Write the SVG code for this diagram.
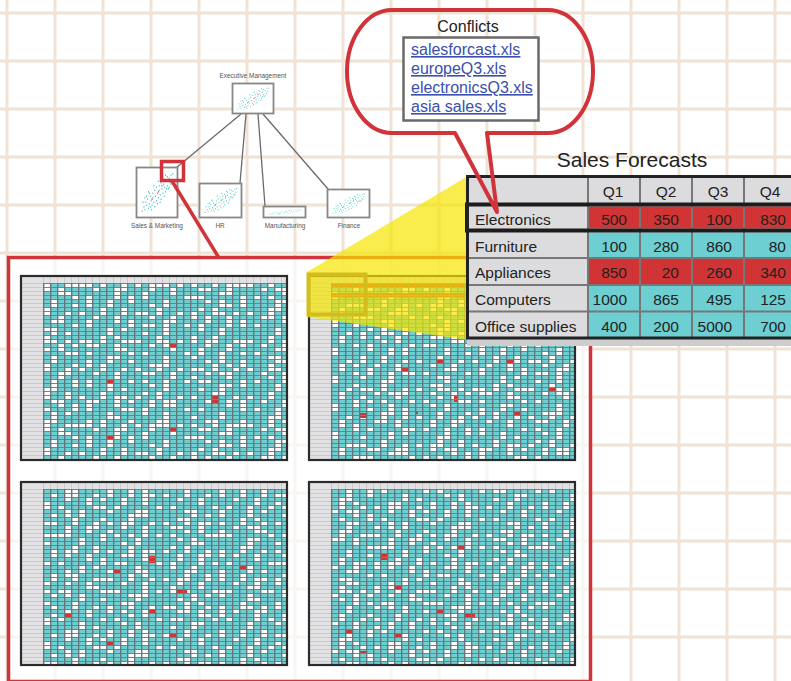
<svg xmlns="http://www.w3.org/2000/svg" xmlns:xlink="http://www.w3.org/1999/xlink" width="791" height="681" viewBox="0 0 791 681">
<style>
text{font-family:"Liberation Sans",Arial,sans-serif}
.org{font-size:6.4px;fill:#555;text-anchor:middle}
.box{fill:#fff;stroke:#878787;stroke-width:1.8}
.conn{stroke:#6a6a6a;stroke-width:1.3;fill:none}
.redln{fill:none;stroke:#d0343a;stroke-width:3.5}
.teal{fill:#6ecfd2}
.rc{fill:#d13434}
.gray{fill:#e2e2e4}
.frame{fill:none;stroke:#2b2b2b;stroke-width:2.2}
.tt{font-size:15.5px;fill:#222}
.num{text-anchor:end}
.q{text-anchor:middle}
.link{font-size:16px;fill:#3a4fae;text-decoration:underline}
.tl{stroke:#777;stroke-width:2}
</style>
<defs>
<pattern id="bg" patternUnits="userSpaceOnUse" x="5.5" y="11.5" width="48" height="48">
<rect width="3" height="48" fill="#eee3d4"/><rect width="48" height="3" fill="#eee3d4"/>
</pattern>
<pattern id="wA" patternUnits="userSpaceOnUse" x="23" y="8" width="56" height="28">
<path fill="#fff" d="M21 0h7v4h-7zM14 4h7v8h-7zM35 8h7v4h-7zM49 8h7v4h-7zM7 12h7v4h-7zM28 12h7v8h-7zM0 20h7v4h-7zM42 20h7v4h-7zM21 24h7v4h-7z"/>
</pattern>
<pattern id="wB" patternUnits="userSpaceOnUse" x="23" y="8" width="77" height="20">
<path fill="#fff" d="M56 0h7v4h-7zM28 4h7v4h-7zM0 8h7v8h-7zM42 8h7v4h-7zM63 12h7v4h-7zM35 16h7v4h-7z"/>
</pattern>
<pattern id="gl" patternUnits="userSpaceOnUse" x="23" y="8" width="7" height="4">
<rect width="7" height="1" fill="#738285"/><rect width="1.4" height="4" fill="#66767a"/>
</pattern>
<pattern id="hd" patternUnits="userSpaceOnUse" x="23" y="0" width="7" height="8">
<rect width="1" height="8" fill="#cacaca"/>
</pattern>
<pattern id="rh" patternUnits="userSpaceOnUse" x="0" y="8" width="22" height="4">
<rect width="22" height="0.8" fill="#c4c4c4"/>
</pattern>
<symbol id="sc" viewBox="0 0 40 30" preserveAspectRatio="none">
<path fill="#3dbdc6" d="M3 27h1v1h-1zM5 24h1v1h-1zM6 26h1v1h-1zM7 21h1v1h-1zM8 23h1v1h-1zM9 19h1v1h-1zM10 25h1v1h-1zM11 22h1v1h-1zM12 17h1v1h-1zM13 20h1v1h-1zM14 23h1v1h-1zM15 15h1v1h-1zM15 18h1v1h-1zM16 21h1v1h-1zM17 13h1v1h-1zM18 17h1v1h-1zM19 20h1v1h-1zM19 11h1v1h-1zM20 15h1v1h-1zM21 18h1v1h-1zM22 10h1v1h-1zM22 13h1v1h-1zM23 16h1v1h-1zM24 8h1v1h-1zM25 12h1v1h-1zM26 15h1v1h-1zM27 9h1v1h-1zM27 6h1v1h-1zM28 11h1v1h-1zM29 14h1v1h-1zM30 7h1v1h-1zM31 4h1v1h-1zM31 10h1v1h-1zM32 12h1v1h-1zM33 5h1v1h-1zM34 8h1v1h-1zM35 3h1v1h-1zM36 6h1v1h-1zM37 2h1v1h-1zM11 15h1v1h-1zM13 26h1v1h-1zM24 19h1v1h-1zM29 3h1v1h-1zM8 17h1v1h-1zM20 22h1v1h-1zM33 11h1v1h-1zM17 24h1v1h-1zM26 5h1v1h-1zM4 21h1v1h-1zM6 18h1v1h-1zM10 14h1v1h-1zM16 10h1v1h-1zM21 7h1v1h-1zM28 17h1v1h-1zM12 24h1v1h-1zM23 21h1v1h-1zM35 9h1v1h-1zM30 12h1v1h-1z"/>
<path fill="#d03030" d="M14 19h1v1h-1zM21 14h1v1h-1zM25 10h1v1h-1z"/>
</symbol>
</defs>

<rect width="791" height="681" fill="#fff"/>
<rect width="791" height="681" fill="url(#bg)"/>
<rect x="10" y="259" width="579" height="422" fill="#fff" opacity="0.65"/>

<g id="connectors">
<line class="conn" x1="241" y1="114" x2="176" y2="168"/>
<line class="conn" x1="246" y1="114" x2="240" y2="183"/>
<line class="conn" x1="258" y1="114" x2="265" y2="206"/>
<line class="conn" x1="263" y1="114" x2="328" y2="189"/>
</g>

<g id="exec">
<rect class="box" x="232.5" y="83.5" width="41" height="30"/>
<use href="#sc" x="235" y="86" width="36" height="25"/>
<text class="org" x="253" y="78">Executive Management</text>
</g>
<g id="sales">
<rect class="box" x="136.5" y="167.5" width="41" height="50"/>
<use href="#sc" x="139" y="170" width="36" height="45"/>
<text class="org" x="157" y="228">Sales &amp; Marketing</text>
</g>
<g id="hr">
<rect class="box" x="199.5" y="183.5" width="42" height="34"/>
<use href="#sc" x="202" y="186" width="37" height="29"/>
<text class="org" x="220" y="228">HR</text>
</g>
<g id="manufacturing">
<rect class="box" x="263.5" y="206.5" width="42" height="11"/>
<use href="#sc" x="266" y="208.5" width="37" height="7"/>
<text class="org" x="285" y="228">Manufacturing</text>
</g>
<g id="finance">
<rect class="box" x="327.5" y="189.5" width="42" height="28"/>
<use href="#sc" x="330" y="192" width="37" height="23"/>
<text class="org" x="349" y="228">Finance</text>
</g>

<g id="zoom-frame">
<rect class="redln" x="161.5" y="161.5" width="22" height="19"/>
<line class="redln" x1="172" y1="181" x2="219" y2="258"/>
<rect class="redln" x="8.5" y="257.5" width="582" height="424"/>
</g>

<g id="sheet-1" transform="translate(20,275)">
<rect class="gray" x="0" y="0" width="268" height="186"/>
<rect x="23" y="1" width="244" height="7" fill="url(#hd)"/>
<rect x="1" y="8" width="22" height="177" fill="url(#rh)"/>
<rect class="teal" x="23" y="8" width="244" height="177"/>
<g transform="translate(-14,-8)"><rect x="37" y="16" width="244" height="177" fill="url(#wA)"/></g>
<g transform="translate(-35,-12)"><rect x="58" y="20" width="244" height="177" fill="url(#wB)"/></g>
<path class="rc" d="M149 68h7v4h-7zM86 104h7v4h-7zM191 120h7v8h-7zM149 152h7v4h-7zM86 160h7v4h-7z"/>
<rect x="23" y="8" width="244" height="177" fill="url(#gl)"/>
<rect class="frame" x="1" y="1" width="266" height="184"/>
</g>

<g id="sheet-2" transform="translate(308,275)">
<rect class="gray" x="0" y="0" width="268" height="186"/>
<rect x="23" y="1" width="244" height="7" fill="url(#hd)"/>
<rect x="1" y="8" width="22" height="177" fill="url(#rh)"/>
<rect class="teal" x="23" y="8" width="244" height="177"/>
<g transform="translate(-21,-16)"><rect x="44" y="24" width="244" height="177" fill="url(#wA)"/></g>
<g transform="translate(-7,-4)"><rect x="30" y="12" width="244" height="177" fill="url(#wB)"/></g>
<path class="rc" d="M24 8.5h243v4.5h-243zM24 18h243v4.5h-243zM128 84h7v4h-7zM198 84h7v4h-7zM93 92h7v4h-7zM240 112h7v4h-7zM146 120h4v7h-4zM51 138h7v5h-7zM107 136h3v3h-3zM205 136h7v4h-7z"/>
<rect x="23" y="8" width="244" height="177" fill="url(#gl)"/>
<rect class="frame" x="1" y="1" width="266" height="184"/>
</g>

<g id="sheet-3" transform="translate(20,481)">
<rect class="gray" x="0" y="0" width="268" height="185"/>
<rect x="23" y="1" width="244" height="7" fill="url(#hd)"/>
<rect x="1" y="8" width="22" height="176" fill="url(#rh)"/>
<rect class="teal" x="23" y="8" width="244" height="176"/>
<g transform="translate(-42,-4)"><rect x="65" y="12" width="244" height="176" fill="url(#wA)"/></g>
<g transform="translate(-56,-8)"><rect x="79" y="16" width="244" height="176" fill="url(#wB)"/></g>
<path class="rc" d="M128 75h7v7h-7zM93 88h7v4h-7zM219 84h7v4h-7zM156 108h11v4h-11zM128 128h7v4h-7zM44 132h7v4h-7zM149 152h7v4h-7zM86 160h7v4h-7z"/>
<rect x="23" y="8" width="244" height="176" fill="url(#gl)"/>
<rect class="frame" x="1" y="1" width="266" height="183"/>
</g>

<g id="sheet-4" transform="translate(308,481)">
<rect class="gray" x="0" y="0" width="268" height="185"/>
<rect x="23" y="1" width="244" height="7" fill="url(#hd)"/>
<rect x="1" y="8" width="22" height="176" fill="url(#rh)"/>
<rect class="teal" x="23" y="8" width="244" height="176"/>
<g transform="translate(-7,-20)"><rect x="30" y="28" width="244" height="176" fill="url(#wA)"/></g>
<g transform="translate(-21,-16)"><rect x="44" y="24" width="244" height="176" fill="url(#wB)"/></g>
<path class="rc" d="M149 64h7v5h-7zM72 72h7v7h-7zM86 104h7v4h-7zM128 128h7v4h-7zM156 132h11v4h-11zM37 148h7v4h-7zM86 152h7v4h-7zM51 170h7v2h-7z"/>
<rect x="23" y="8" width="244" height="176" fill="url(#gl)"/>
<rect class="frame" x="1" y="1" width="266" height="183"/>
</g>

<g id="magnifier">
<polygon points="307,272 468,176 468,340 307,317" fill="#f5e600" opacity="0.7"/>
<rect x="308.5" y="274.5" width="57" height="40" fill="none" stroke="#d3bd1c" stroke-width="4"/>
</g>

<g id="sales-forecasts">
<text x="632" y="167" font-size="21" fill="#222" text-anchor="middle">Sales Forecasts</text>
<rect x="467" y="338" width="330" height="8" fill="#cdcdcd"/>
<rect x="467.5" y="176.5" width="330" height="161.5" fill="#dcdcde"/>
<rect class="rc" x="588" y="206.5" width="209" height="22"/>
<rect class="teal" x="588" y="232.5" width="209" height="25.5"/>
<rect class="rc" x="588" y="258" width="209" height="27"/>
<rect class="teal" x="588" y="285" width="209" height="26.5"/>
<rect class="teal" x="588" y="311.5" width="209" height="26"/>
<line class="tl" x1="588" y1="177" x2="588" y2="337"/>
<line class="tl" x1="640" y1="177" x2="640" y2="337"/>
<line class="tl" x1="692" y1="177" x2="692" y2="337"/>
<line class="tl" x1="744" y1="177" x2="744" y2="337"/>
<line class="tl" x1="468" y1="258" x2="797" y2="258"/>
<line class="tl" x1="468" y1="285" x2="797" y2="285"/>
<line class="tl" x1="468" y1="311.5" x2="797" y2="311.5"/>
<rect x="467" y="204.5" width="332" height="26" fill="none" stroke="#1c1c1c" stroke-width="4"/>
<rect x="467.5" y="176.5" width="330" height="161.5" fill="none" stroke="#222" stroke-width="3"/>
<g class="tt">
<text class="q" x="613" y="197">Q1</text>
<text class="q" x="666" y="197">Q2</text>
<text class="q" x="718" y="197">Q3</text>
<text class="q" x="770" y="197">Q4</text>
<text x="475" y="225">Electronics</text>
<text x="475" y="252">Furniture</text>
<text x="475" y="278">Appliances</text>
<text x="475" y="305">Computers</text>
<text x="475" y="332">Office supplies</text>
<text class="num" x="627" y="225">500</text>
<text class="num" x="679" y="225">350</text>
<text class="num" x="732" y="225">100</text>
<text class="num" x="786" y="225">830</text>
<text class="num" x="627" y="252">100</text>
<text class="num" x="679" y="252">280</text>
<text class="num" x="732" y="252">860</text>
<text class="num" x="786" y="252">80</text>
<text class="num" x="627" y="278">850</text>
<text class="num" x="679" y="278">20</text>
<text class="num" x="732" y="278">260</text>
<text class="num" x="786" y="278">340</text>
<text class="num" x="627" y="305">1000</text>
<text class="num" x="679" y="305">865</text>
<text class="num" x="732" y="305">495</text>
<text class="num" x="786" y="305">125</text>
<text class="num" x="627" y="332">400</text>
<text class="num" x="679" y="332">200</text>
<text class="num" x="732" y="332">5000</text>
<text class="num" x="786" y="332">700</text>
</g>
</g>

<g id="conflicts">
<path d="M487 133L548 133A45 61.5 0 0 0 593 71.5A45 61.5 0 0 0 548 10L392 10A45 61.5 0 0 0 347 71.5A45 61.5 0 0 0 392 133L455 133L497 212Z" fill="none" stroke="#d0343a" stroke-width="4" stroke-linejoin="round"/>
<text x="468" y="32" font-size="16" fill="#222" text-anchor="middle">Conflicts</text>
<rect x="403.5" y="37.5" width="135" height="83" fill="#fff" stroke="#6a6a6a" stroke-width="2.5"/>
<text class="link" x="411" y="55">salesforcast.xls</text>
<text class="link" x="411" y="74">europeQ3.xls</text>
<text class="link" x="411" y="93">electronicsQ3.xls</text>
<text class="link" x="411" y="112">asia sales.xls</text>
</g>
</svg>
